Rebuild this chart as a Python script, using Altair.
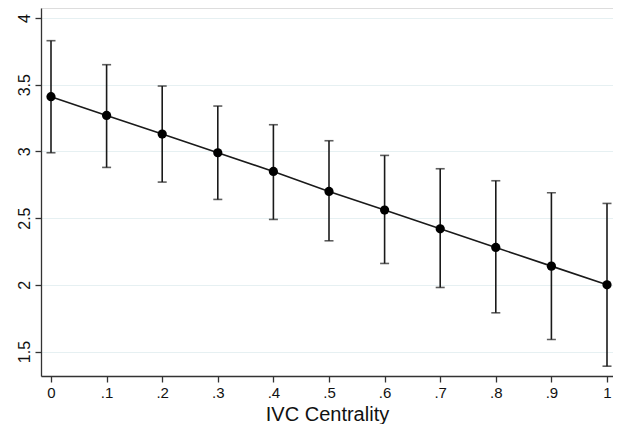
import altair as alt
import pandas as pd

x_vals = [0.0, 0.1, 0.2, 0.3, 0.4, 0.5, 0.6, 0.7, 0.8, 0.9, 1.0]
margin = [3.41, 3.27, 3.13, 2.99, 2.85, 2.70, 2.56, 2.42, 2.28, 2.14, 2.00]
lower = [2.99, 2.88, 2.77, 2.64, 2.49, 2.33, 2.16, 1.98, 1.79, 1.59, 1.39]
upper = [3.83, 3.65, 3.49, 3.34, 3.20, 3.08, 2.97, 2.87, 2.78, 2.69, 2.61]
x_ticks = [0, 0.1, 0.2, 0.3, 0.4, 0.5, 0.6, 0.7, 0.8, 0.9, 1.0]
x_labels = ["0", ".1", ".2", ".3", ".4", ".5", ".6", ".7", ".8", ".9", "1"]
y_ticks = [1.5, 2, 2.5, 3, 3.5, 4]
y_labels = ["1.5", "2", "2.5", "3", "3.5", "4"]

df = pd.DataFrame({"x": x_vals, "m": margin, "lo": lower, "hi": upper})

xlab = " : ".join(f"abs(datum.value - {v}) < 1e-6 ? '{l}'" for v, l in zip(x_ticks, x_labels)) + " : ''"
ylab = " : ".join(f"abs(datum.value - {v}) < 1e-6 ? '{l}'" for v, l in zip(y_ticks, y_labels)) + " : ''"

FONT = "Liberation Sans"
PW, PH = 572, 368

xscale = alt.Scale(domain=[-10 / 556, (PW - 10) / 556], nice=False, zero=False)
yscale = alt.Scale(domain=[4.075 - PH / 133.4, 4.075], nice=False, zero=False)

xenc = alt.X(
    "x:Q",
    scale=xscale,
    title="IVC Centrality",
    axis=alt.Axis(
        values=x_ticks,
        labelExpr=xlab,
        grid=False,
        tickSize=6,
        labelPadding=3,
        labelFontSize=15,
        labelFont=FONT,
        labelColor="#111",
        titleFont=FONT,
        titleFontSize=20,
        titleFontWeight="normal",
        titleColor="#111",
        titleBaseline="alphabetic",
        titleY=44,
        domainColor="#333",
        tickColor="#333",
        domainWidth=1.3,
        tickWidth=1.3,
        labelFlush=False,
    ),
)

yaxis = alt.Axis(
    values=y_ticks,
    labelExpr=ylab,
    grid=True,
    gridColor="#e6f0f2",
    gridWidth=1,
    tickSize=6,
    labelAngle=270,
    labelAlign="center",
    labelBaseline="bottom",
    labelPadding=3,
    labelFontSize=16,
    labelFont=FONT,
    labelColor="#111",
    title=None,
    domainColor="#333",
    tickColor="#333",
    domainWidth=1.3,
    tickWidth=1.3,
)

base = alt.Chart(df)

rules = base.mark_rule(color="#1a1a1a", strokeWidth=1.6).encode(
    x=xenc,
    y=alt.Y("lo:Q", scale=yscale, axis=yaxis),
    y2="hi:Q",
)
caps_lo = base.mark_tick(color="#1a1a1a", thickness=1.6, size=9, orient="horizontal").encode(
    x="x:Q", y=alt.Y("lo:Q")
)
caps_hi = base.mark_tick(color="#1a1a1a", thickness=1.6, size=9, orient="horizontal").encode(
    x="x:Q", y=alt.Y("hi:Q")
)
line = base.mark_line(color="#1a1a1a", strokeWidth=1.6).encode(x="x:Q", y="m:Q")
pts = base.mark_circle(color="black", opacity=1, size=85).encode(x="x:Q", y="m:Q")

chart = (
    alt.layer(rules, caps_lo, caps_hi, line, pts)
    .properties(
        width=PW,
        height=PH,
        autosize=alt.AutoSizeParams(type="none"),
        padding={"left": 33, "top": 0, "right": 0, "bottom": 48},
    )
    .configure_view(stroke=None)
    .configure(background="white")
)

chart.save("out.html", embed_options={"renderer": "svg", "actions": False})
